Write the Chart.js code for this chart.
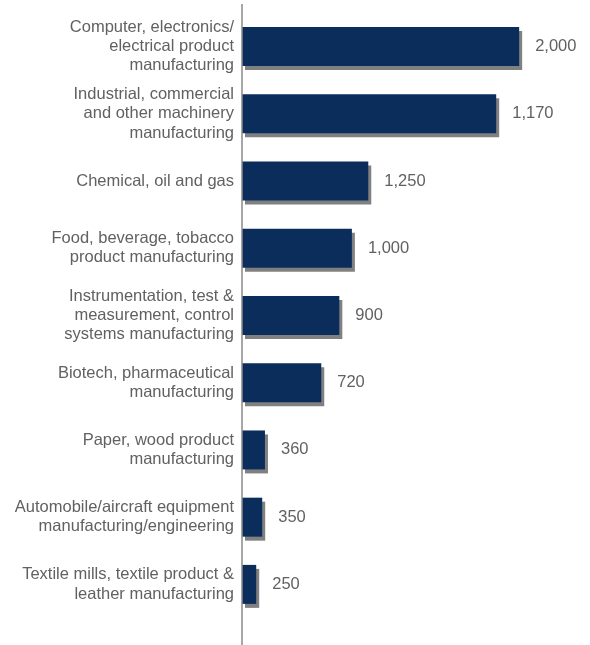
<!DOCTYPE html>
<html>
<head>
<meta charset="utf-8">
<script src="https://cdn.jsdelivr.net/npm/chart.js@4"></script>
<style>
  body { margin: 0; background: #fff; }
  #wrap { width: 590px; height: 645px; }
</style>
</head>
<body>
<div id="wrap"><canvas id="myChart"></canvas></div>
<script>
// Categories (multi-line labels)
const categories = [
  ["Computer, electronics/", "electrical product", "manufacturing"],
  ["Industrial, commercial", "and other machinery", "manufacturing"],
  ["Chemical, oil and gas"],
  ["Food, beverage, tobacco", "product manufacturing"],
  ["Instrumentation, test &", "measurement, control", "systems manufacturing"],
  ["Biotech, pharmaceutical", "manufacturing"],
  ["Paper, wood product", "manufacturing"],
  ["Automobile/aircraft equipment", "manufacturing/engineering"],
  ["Textile mills, textile product &", "leather manufacturing"],
];

// Bar lengths as drawn in the picture
const barLengths = [2535, 2325, 1155, 1005, 890, 725, 210, 185, 130];

// Value labels printed next to the bars
const valueLabels = ["2,000", "1,170", "1,250", "1,000", "900", "720", "360", "350", "250"];

const textColor = "#616161";
const font = "'Liberation Sans', Arial, sans-serif";

// Shadow under the bars
const barShadow = {
  id: "barShadow",
  beforeDatasetDraw(chart) {
    const c = chart.ctx;
    c.save();
    c.shadowColor = "#808080";
    c.shadowOffsetX = 3;
    c.shadowOffsetY = 4;
    c.shadowBlur = 0;
  },
  afterDatasetDraw(chart) {
    chart.ctx.restore();
  },
};

// Value text and the vertical axis line
const extras = {
  id: "extras",
  afterDatasetsDraw(chart) {
    const c = chart.ctx;
    const meta = chart.getDatasetMeta(0);
    c.save();
    c.fillStyle = textColor;
    c.font = "16.5px " + font;
    c.textBaseline = "middle";
    c.textAlign = "left";
    meta.data.forEach((bar, i) => {
      c.fillText(valueLabels[i], bar.x + 16, bar.y);
    });
    const x = chart.chartArea.left;
    c.strokeStyle = "#8a8a8a";
    c.lineWidth = 1.5;
    c.beginPath();
    c.moveTo(x, 4);
    c.lineTo(x, chart.height);
    c.stroke();
    c.restore();
  },
};

const ctx = document.getElementById("myChart").getContext("2d");
const myChart = new Chart(ctx, {
  type: "bar",
  data: {
    labels: categories,
    datasets: [
      {
        data: barLengths,
        backgroundColor: "#0b2d5c",
        borderWidth: 0,
        barPercentage: 0.58,
        categoryPercentage: 1,
      },
    ],
  },
  options: {
    indexAxis: "y",
    responsive: true,
    maintainAspectRatio: false,
    animation: false,
    layout: {
      padding: { top: 13, bottom: 27, left: 0, right: 20 },
    },
    plugins: {
      legend: { display: false },
      tooltip: { enabled: false },
    },
    scales: {
      x: {
        display: false,
        min: 0,
        max: 3000,
      },
      y: {
        grid: { display: false, drawTicks: false },
        border: { display: false },
        ticks: {
          color: textColor,
          padding: 8,
          font: { family: font, size: 16.5, lineHeight: 1.16 },
        },
        afterFit(scale) {
          scale.width = 242;
          scale.paddingTop = 0;
          scale.paddingBottom = 0;
        },
      },
    },
  },
  plugins: [barShadow, extras],
});
</script>
</body>
</html>
